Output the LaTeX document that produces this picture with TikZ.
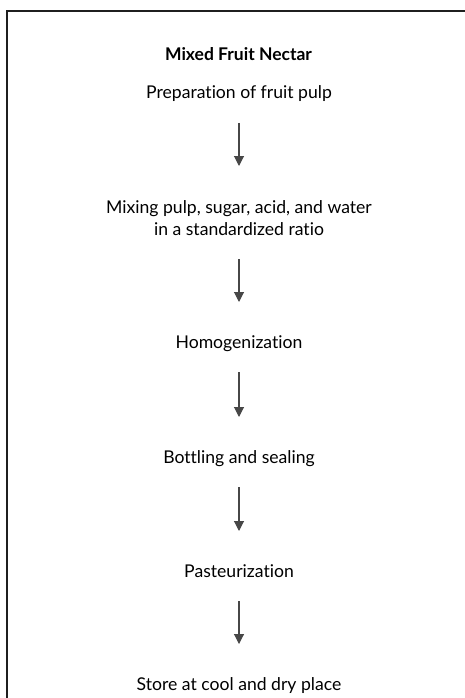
\documentclass[tikz,border=0pt]{standalone}
\usepackage{fontspec}
\setmainfont{Lato}[Ligatures=NoCommon]
\usetikzlibrary{arrows.meta}
\begin{document}
\begin{tikzpicture}[x=1pt,y=1pt,
  lab/.style={anchor=base, inner sep=0pt, align=center, font=\fontsize{17.6}{22}\selectfont},
  ttl/.style={anchor=base, inner sep=0pt, font=\bfseries\fontsize{17.5}{22}\selectfont},
  arr/.style={draw=black!72, line width=1.1pt, -{Triangle[width=10pt,length=10pt]}, shorten <=24pt, shorten >=46pt}]
\useasboundingbox (0,0) rectangle (465,-698);
\begin{scope}
  \clip (0,0) rectangle (465,-698);
  \draw[line width=2pt, black!88] (7,-730) -- (7,-11) -- (500,-11);
\end{scope}
\node[ttl] (title) at (238.5,-61) {Mixed Fruit Nectar};
\node[lab] (s1) at (239,-99) {Preparation of fruit pulp};
\node[lab] (s2) at (239,-235) {Mixing pulp, sugar, acid, and water\\in a standardized ratio};
\node[lab] (s3) at (239,-348) {Homogenization};
\node[lab] (s4) at (239,-463) {Bottling and sealing};
\node[lab] (s5) at (239,-577) {Pasteurization};
\node[lab] (s6) at (239,-690) {Store at cool and dry place};
\draw[arr, shorten >=69pt] (s1.base) -- (s2.base);
\draw[arr] (s2.base) -- (s3.base);
\draw[arr] (s3.base) -- (s4.base);
\draw[arr] (s4.base) -- (s5.base);
\draw[arr] (s5.base) -- (s6.base);
\end{tikzpicture}
\end{document}
